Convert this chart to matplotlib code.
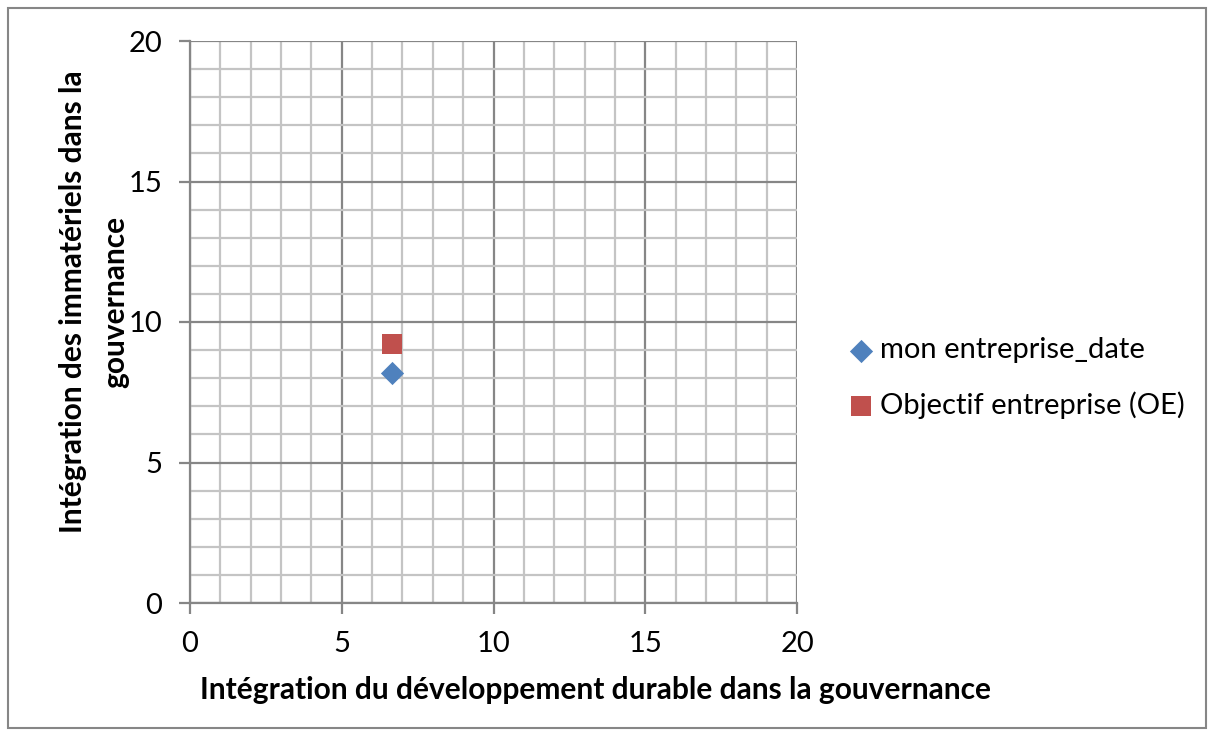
import matplotlib
matplotlib.use("Agg")
import matplotlib.pyplot as plt
from matplotlib.patches import Rectangle
from matplotlib.ticker import MultipleLocator

plt.rcParams['font.family'] = ['Lato', 'DejaVu Sans']

series_names = ["mon entreprise_date", "Objectif entreprise (OE)"]
x_values = [[6.67], [6.67]]
y_values = [[8.2], [9.2]]
markers = ["D", "s"]
colors = ["#4F81BD", "#C0504D"]
x_label = "Intégration du développement durable dans la gouvernance"
y_label = "Intégration des immatériels dans la\ngouvernance"

W, H = 1214, 736
fig = plt.figure(figsize=(W/100, H/100), dpi=100)
ax = fig.add_axes([190/W, 1-603/H, (797-190)/W, (603-41)/H])

for xs, ys, m, c, n in zip(x_values, y_values, markers, colors, series_names):
    ax.scatter(xs, ys, marker=m, s=220 if m == "s" else 140, color=c, label=n, zorder=3, linewidths=0)

ax.set_xlim(0, 20)
ax.set_ylim(0, 20)
ax.xaxis.set_major_locator(MultipleLocator(5))
ax.yaxis.set_major_locator(MultipleLocator(5))
ax.xaxis.set_minor_locator(MultipleLocator(1))
ax.yaxis.set_minor_locator(MultipleLocator(1))
ax.grid(which='minor', color='#C4C4C4', linewidth=1.6)
ax.grid(which='major', color='#868686', linewidth=1.6)
ax.set_axisbelow(True)
ax.tick_params(which='minor', length=0)
ax.tick_params(which='major', length=8, width=1.6, color='#868686', labelsize=21)
ax.tick_params(axis='x', pad=12)
ax.tick_params(axis='y', pad=12)
for s in ['top', 'right']:
    ax.spines[s].set_visible(False)
for s in ['left', 'bottom']:
    ax.spines[s].set_color('#868686')
    ax.spines[s].set_linewidth(1.6)

fig.text(595/W, 1-690/H, x_label, ha='center', va='center', fontsize=21.5, fontweight='bold')
fig.text(94/W, 1-302/H, y_label, ha='center', va='center', rotation=90, fontsize=21.5,
         fontweight='bold', linespacing=1.6)

leg = fig.legend(loc='center left', bbox_to_anchor=(806/W, 1-378/H), frameon=False,
                 fontsize=21, handletextpad=-0.35, labelspacing=0.95, markerscale=1.0)

fig.patches.append(Rectangle((8/W, 8/H), (W-16)/W, (H-16)/H, transform=fig.transFigure,
                             fill=False, edgecolor='#868686', linewidth=1.5))

fig.savefig("out.png", dpi=100)
